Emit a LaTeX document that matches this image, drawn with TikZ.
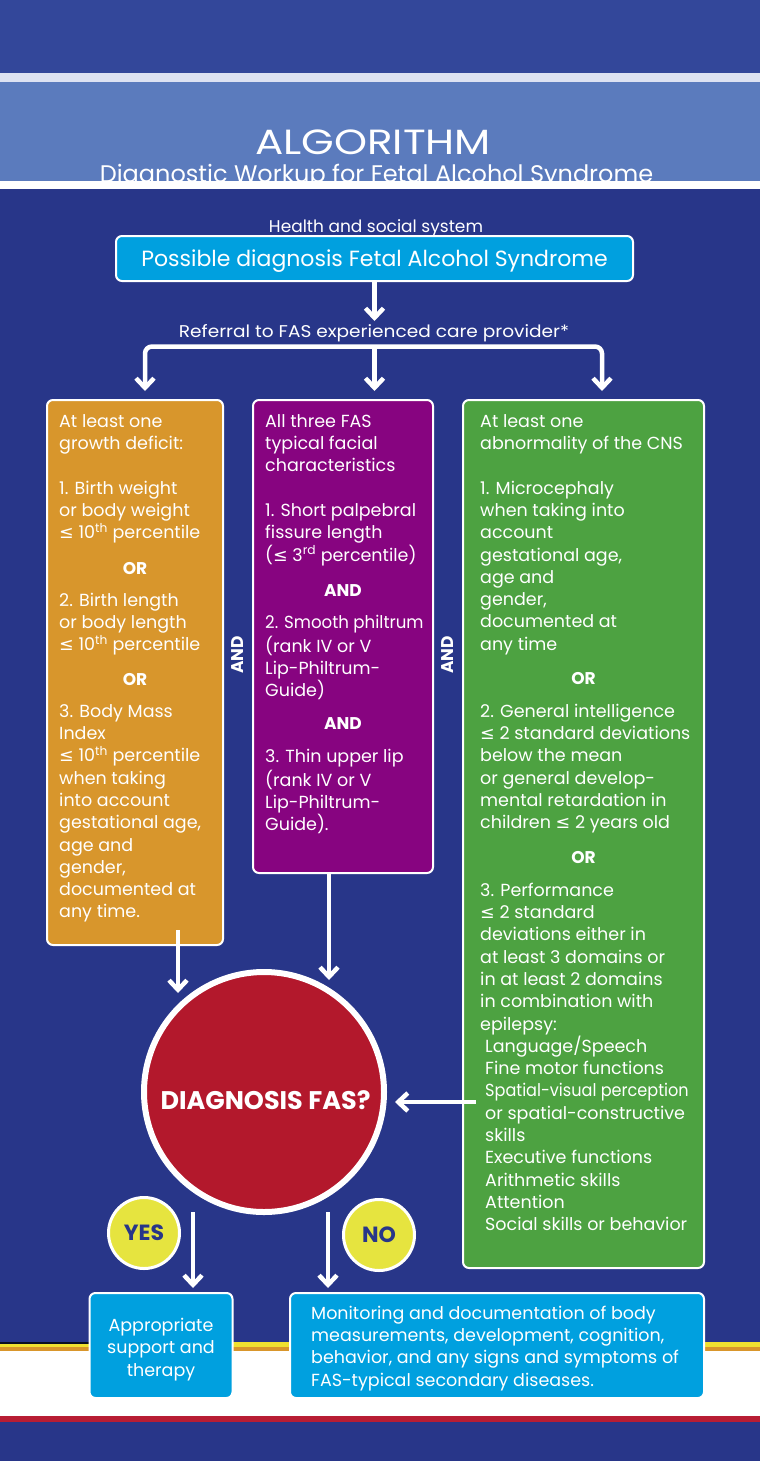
\documentclass[tikz,border=0pt]{standalone}
\usepackage{fontspec}
\usepackage{graphicx}
\setmainfont{Poppins}
\newfontfamily\symfam{DejaVu Sans}
\usetikzlibrary{arrows.meta}
\newcommand{\lesym}{{\symfam ≤}}
\newcommand{\narrow}[2]{\scalebox{#1}[1]{#2}}
\definecolor{bgdark}{HTML}{283689}
\definecolor{topband}{HTML}{33479A}
\definecolor{lav}{HTML}{DDE2F2}
\definecolor{midband}{HTML}{5B7BBD}
\definecolor{cyanbox}{HTML}{00A0DF}
\definecolor{orangebox}{HTML}{D8962C}
\definecolor{purplebox}{HTML}{870480}
\definecolor{greenbox}{HTML}{4DA241}
\definecolor{redcirc}{HTML}{B3182C}
\definecolor{yellowcirc}{HTML}{E6E43F}
\definecolor{stripey}{HTML}{F0E130}
\definecolor{stripeo}{HTML}{D9962B}
\definecolor{striper}{HTML}{B81D34}
\tikzset{
  boxframe/.style={draw=white, line width=2pt, rounded corners=6pt, inner sep=0pt},
  blk/.style={anchor=north west, inner sep=0pt, align=left, text=white, font=\fontsize{17.5}{22.3}\selectfont},
  sepword/.style={anchor=base, inner sep=0pt, text=white, font=\bfseries\fontsize{17}{20}\selectfont},
  arr/.style={draw=white, line width=4.5pt, -{Straight Barb[length=9.5pt,width=18pt]}},
  arrboth/.style={draw=white, line width=4.5pt, {Straight Barb[length=9.5pt,width=18pt]}-{Straight Barb[length=9.5pt,width=18pt]}},
  plain/.style={text=white, inner sep=0pt},
}
\begin{document}
\begin{tikzpicture}[x=1pt,y=-1pt]
% background
\fill[bgdark] (0,0) rectangle (760,1461);
\useasboundingbox (0,0) rectangle (760,1461);
% header
\fill[topband] (0,0) rectangle (760,73);
\fill[lav] (0,73) rectangle (760,82);
\fill[midband] (0,82) rectangle (760,181);
\node[plain, anchor=base, font=\fontsize{35}{35}\selectfont] (title) at (373,154) {\narrow{1.2}{ALGORITHM}};
\node[plain, anchor=base, font=\fontsize{24}{24}\selectfont] (subtitle) at (376.5,182.5) {Diagnostic Workup for Fetal Alcohol Syndrome};
\fill[white] (0,181) rectangle (760,189);
% bottom stripes
\fill[white] (0,1350) rectangle (760,1417);
\fill[stripey] (0,1342) rectangle (760,1347);
\fill[stripeo] (0,1347) rectangle (760,1351);
\fill[black!75!bgdark] (0,1341.5) rectangle (90,1343.5);
\fill[striper] (0,1416) rectangle (760,1422);

% top part
\node[plain, anchor=base, font=\fontsize{17}{17}\selectfont] (hss) at (376,232.5) {Health and social system};
\node[boxframe, fill=cyanbox, minimum width=517pt, minimum height=45pt] (possible) at (374.5,258.5) {};
\node[plain, anchor=base, font=\fontsize{22}{22}\selectfont] (possibletxt) at (374.5,266.5) {Possible diagnosis Fetal Alcohol Syndrome};
\node[plain, anchor=base, font=\fontsize{17}{17}\selectfont] (referral) at (374,337.5) {\narrow{1.09}{Referral to FAS experienced care provider*}};
\coordinate (reftop) at (374.5,321);
\draw[arr] (possible.south) -- (reftop);
\coordinate (brl) at (145,391);
\coordinate (brm) at (374.5,391);
\coordinate (brr) at (602,391);
\coordinate (brtop) at (374.5,346.5);
\draw[arrboth, rounded corners=7pt] (brl) |- (brtop) -| (brr);
\draw[arr] (brtop) -- (brm);

% three boxes
\node[boxframe, fill=orangebox, minimum width=176pt, minimum height=545pt] (ob) at (135,672.5) {};
\node[boxframe, fill=purplebox, minimum width=180pt, minimum height=473pt] (pb) at (343,636.5) {};
\node[boxframe, fill=greenbox, minimum width=241pt, minimum height=868pt] (gb) at (583.5,834) {};

% orange text
\node[blk] (o1) at (59,411.4) {\strut At least one\\growth deficit:\\[22.3pt]1. Birth weight\\or body weight\\\lesym{} 10\textsuperscript{th} percentile};
\node[sepword] (oor1) at (135,574) {OR};
\node[blk] (o2) at (59,590.4) {\strut 2. Birth length\\or body length\\\lesym{} 10\textsuperscript{th} percentile};
\node[sepword] (oor2) at (135,685) {OR};
\node[blk] (o3) at (59,701.4) {\strut 3. Body Mass\\Index\\\lesym{} 10\textsuperscript{th} percentile\\when taking\\into account\\gestational age,\\age and\\gender,\\documented at\\any time.};

% purple text
\node[blk] (p1) at (265,411.4) {\strut All three FAS\\typical facial\\characteristics\\[22.3pt]1. Short palpebral\\fissure length\\(\lesym{} 3\textsuperscript{rd} percentile)};
\node[sepword] (pand1) at (343,596) {AND};
\node[blk] (p2) at (265,612.4) {\strut \narrow{0.95}{2. Smooth philtrum}\\(rank IV or V\\Lip-Philtrum-\\Guide)};
\node[sepword] (pand2) at (343,729) {AND};
\node[blk] (p3) at (265,746.4) {\strut 3. Thin upper lip\\(rank IV or V\\Lip-Philtrum-\\Guide).};

% green text
\node[blk] (g1) at (480,411.4) {\strut At least one\\abnormality of the CNS\\[22.3pt]1. Microcephaly\\when taking into\\account\\gestational age,\\age and\\gender,\\documented at\\any time};
\node[sepword] (gor1) at (583.5,684) {OR};
\node[blk] (g2) at (480,701.4) {\strut 2. General intelligence\\\lesym{} 2 standard deviations\\below the mean\\or general develop-\\mental retardation in\\children \lesym{} 2 years old};
\node[sepword] (gor2) at (583.5,863) {OR};
\node[blk] (g3) at (480,880.4) {\strut 3. Performance\\\lesym{} 2 standard\\deviations either in\\at least 3 domains or\\in at least 2 domains\\in combination with\\epilepsy:\\\hspace*{5pt}Language/Speech\\\hspace*{5pt}Fine motor functions\\\hspace*{5pt}\narrow{0.92}{Spatial-visual perception}\\\hspace*{5pt}or spatial-constructive\\\hspace*{5pt}skills\\\hspace*{5pt}Executive functions\\\hspace*{5pt}Arithmetic skills\\\hspace*{5pt}Attention\\\hspace*{5pt}Social skills or behavior};

% AND between boxes
\node[sepword, anchor=center, rotate=90] (and1) at (238,655) {AND};
\node[sepword, anchor=center, rotate=90] (and2) at (448,655) {AND};

% diagnosis circle
\node[circle, draw=white, line width=6pt, fill=redcirc, minimum size=240pt, inner sep=0pt] (diag) at (264,1092) {};
\node[plain, anchor=base, font=\bfseries\fontsize{25.5}{25.5}\selectfont] (diagtxt) at (265.5,1109.5) {DIAGNOSIS FAS?};

% arrows to circle
\coordinate (oA) at (178,930);
\coordinate (oB) at (178,993);
\draw[arr] (oA) -- (oB);
\coordinate (pA) at (329,873);
\coordinate (pB) at (329,980);
\draw[arr] (pA) -- (pB);
\coordinate (gA) at (476,1102);
\coordinate (gB) at (395,1102);
\draw[arr] (gA) -- (gB);

% yes / no
\node[circle, draw=white, line width=3pt, fill=yellowcirc, minimum size=71pt, inner sep=0pt, text=bgdark, font=\bfseries\fontsize{22}{22}\selectfont] (yes) at (144,1233) {YES};
\node[circle, draw=white, line width=3pt, fill=yellowcirc, minimum size=71pt, inner sep=0pt, text=bgdark, font=\bfseries\fontsize{22}{22}\selectfont] (no) at (379,1235) {NO};

% bottom boxes
\node[boxframe, fill=cyanbox, minimum width=143pt, minimum height=105pt] (support) at (161,1345.5) {};
\node[plain, anchor=north, align=center, font=\fontsize{17.5}{22.3}\selectfont] (supporttxt) at (161,1315.6) {\strut Appropriate\\support and\\therapy};
\node[boxframe, fill=cyanbox, minimum width=414pt, minimum height=105pt] (monitor) at (497,1345.5) {};
\node[plain, anchor=north west, align=left, font=\fontsize{17.5}{22.3}\selectfont] (monitortxt) at (311,1303.4) {\strut Monitoring and documentation of body\\measurements, development, cognition,\\behavior, and any signs and symptoms of\\FAS-typical secondary diseases.};

\coordinate (yA) at (193,1212);
\coordinate (nA) at (328,1212);
\draw[arr, shorten >=4pt] (yA) -- (support.north -| yA);
\draw[arr, shorten >=4pt] (nA) -- (monitor.north -| nA);
\end{tikzpicture}
\end{document}
